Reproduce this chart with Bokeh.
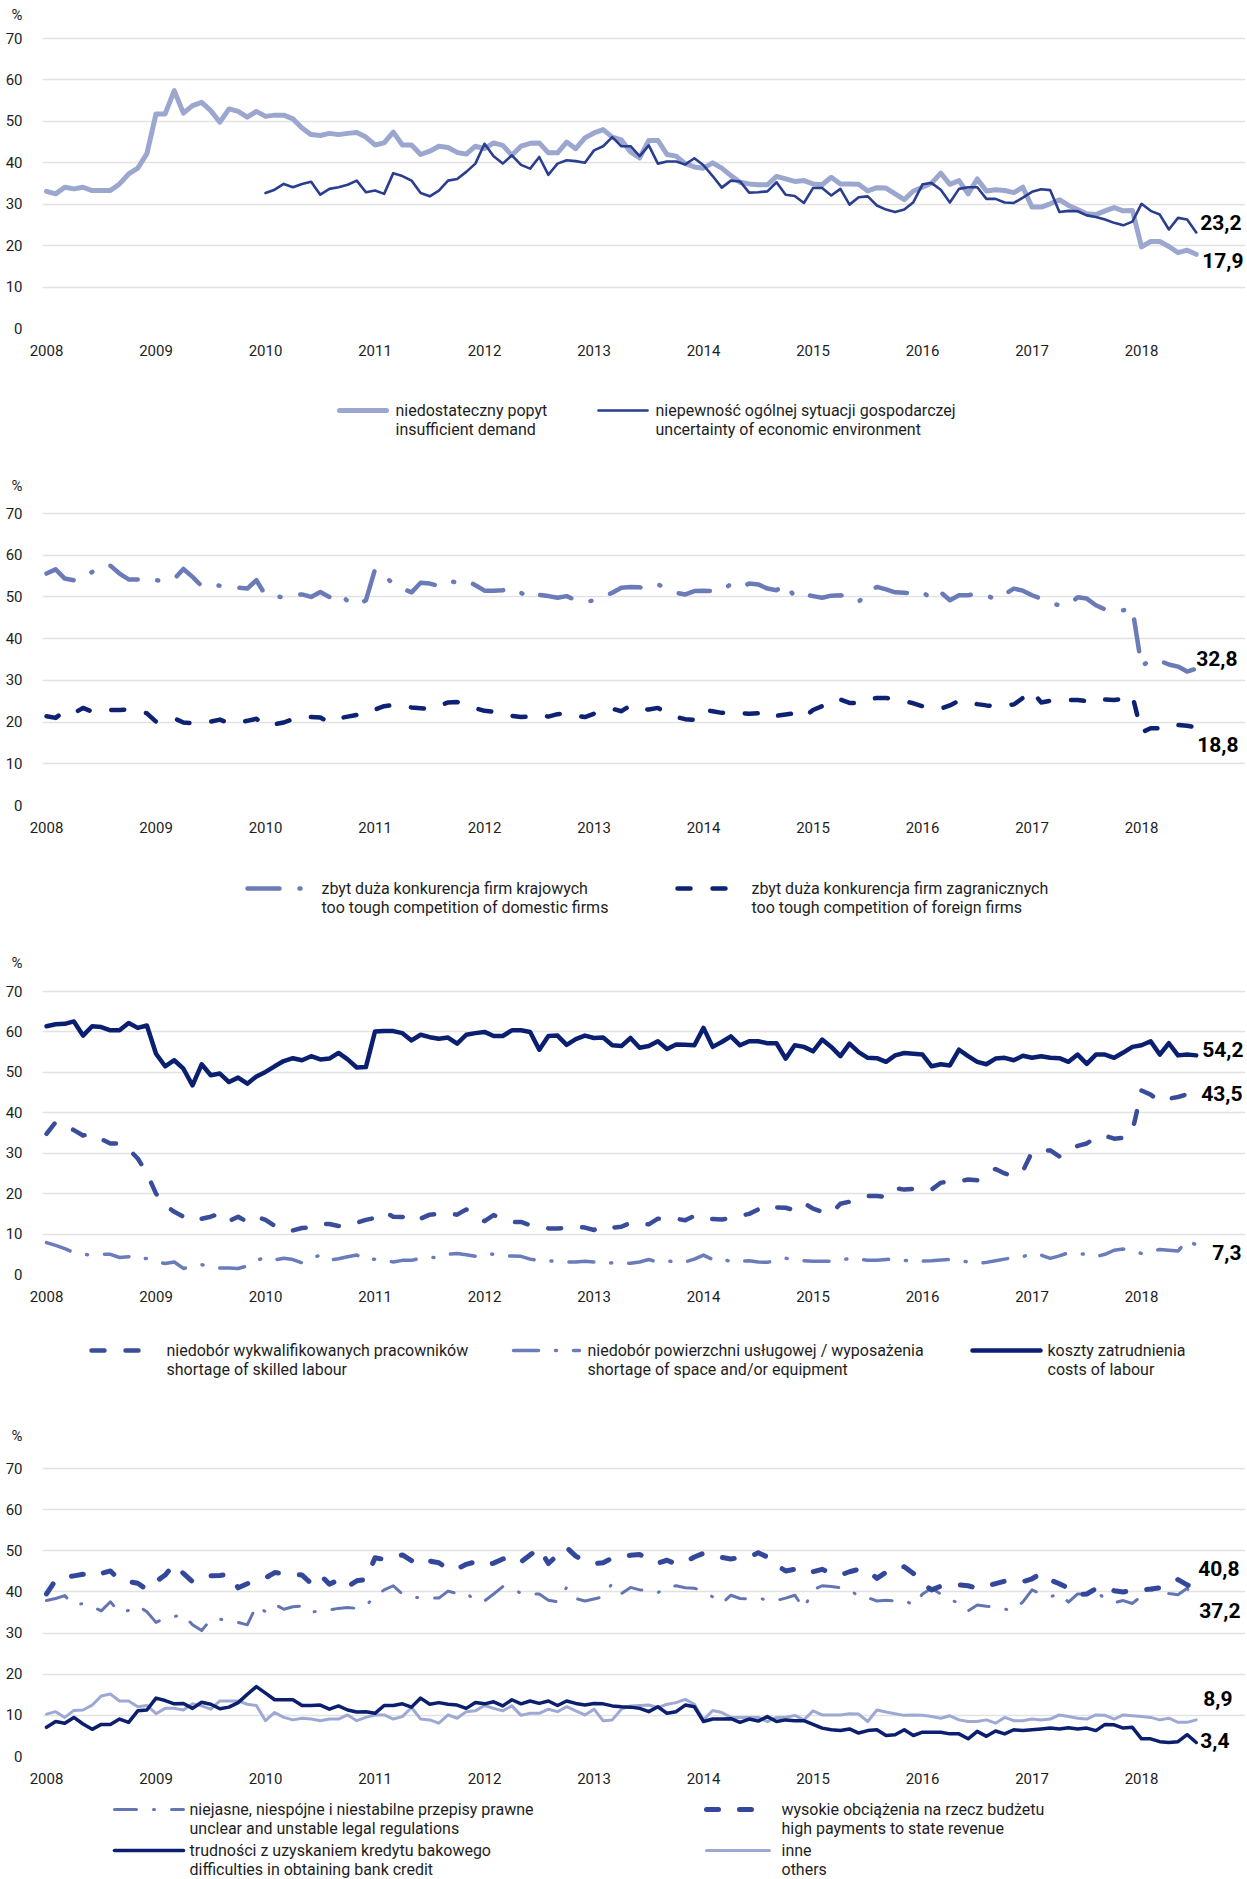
from bokeh.plotting import figure
from bokeh.models import Range1d, FixedTicker
from bokeh.layouts import column
from bokeh.embed import file_html
from bokeh.resources import INLINE
from bokeh.core.properties import value

FONT = "Roboto"
TXT = "#1e1e1e"

# ---------------- data (monthly, Jan 2008 = month 0) ----------------
year_labels = [str(y) for y in range(2008, 2019)]
y_tick_values = [0, 10, 20, 30, 40, 50, 60, 70]
unit_label = "%"

demand = [33.1, 32.5, 34.1, 33.7, 34.1, 33.3, 33.3, 33.3, 34.9, 37.3, 38.7, 42.2,
          51.8, 51.8, 57.4, 52.0, 53.8, 54.6, 52.6, 49.8, 53.0, 52.4, 51.0, 52.4,
          51.2, 51.5, 51.5, 50.6, 48.4, 46.8, 46.6, 47.1, 46.8, 47.1, 47.3, 46.2,
          44.3, 44.8, 47.4, 44.3, 44.3, 42.0, 42.8, 44.0, 43.7, 42.5, 42.1, 44.0,
          43.4, 44.8, 44.2, 41.8, 44.0, 44.7, 44.8, 42.4, 42.4, 45.0, 43.4, 46.0,
          47.2, 48.0, 46.2, 45.5, 42.6, 41.2, 45.4, 45.4, 42.0, 41.6, 39.8, 39.0,
          38.7, 40.0, 38.7, 36.9, 35.3, 34.9, 34.7, 34.7, 36.7, 36.1, 35.5, 35.7,
          34.9, 34.7, 36.5, 34.9, 34.9, 34.8, 33.2, 34.0, 33.9, 32.5, 31.1, 33.2,
          34.1, 35.1, 37.5, 34.8, 35.7, 32.5, 36.1, 33.2, 33.5, 33.3, 32.8, 34.1,
          29.3, 29.3, 30.1, 31.1, 29.7, 28.7, 27.7, 27.5, 28.4, 29.2, 28.4, 28.5,
          19.7, 21.0, 21.0, 19.8, 18.3, 18.9, 17.9]

uncertainty_start = 24
uncertainty = [32.7, 33.5, 34.9, 34.1, 34.9, 35.4, 32.3, 33.7, 34.1, 34.7, 35.7, 32.9,
               33.3, 32.5, 37.5, 36.8, 35.7, 32.7, 31.9, 33.3, 35.7, 36.1, 37.8, 39.8,
               44.6, 41.6, 39.8, 41.8, 39.5, 38.6, 41.4, 37.1, 39.8, 40.6, 40.4, 40.0,
               43.0, 44.0, 46.2, 44.0, 44.0, 41.6, 44.2, 39.8, 40.3, 40.3, 39.6, 41.1,
               39.4, 36.8, 34.0, 35.7, 35.5, 32.8, 32.9, 33.1, 35.3, 32.3, 32.0, 30.3,
               33.9, 33.9, 32.1, 33.7, 29.9, 31.7, 31.9, 29.7, 28.7, 28.1, 28.7, 30.5,
               34.8, 35.1, 33.5, 30.4, 33.7, 34.1, 34.1, 31.3, 31.3, 30.4, 30.3, 31.6,
               33.0, 33.6, 33.4, 28.1, 28.4, 28.3, 27.3, 26.9, 26.3, 25.5, 24.9, 25.8,
               30.1, 28.4, 27.5, 23.9, 26.7, 26.3, 23.2]

domestic = [55.6, 56.6, 54.4, 54.0, 54.4, 56.0, 57.5, 57.5, 55.6, 54.2, 54.2, 54.6,
            54.0, 53.8, 54.3, 56.7, 54.8, 52.6, 53.0, 52.7, 52.4, 52.2, 52.0, 54.0,
            50.4, 50.2, 49.9, 50.4, 50.6, 50.0, 51.2, 50.0, 51.0, 49.0, 48.0, 49.2,
            56.6, 55.0, 53.2, 52.0, 51.1, 53.4, 53.2, 52.6, 53.8, 53.5, 54.0, 52.8,
            51.5, 51.5, 51.6, 52.2, 51.0, 49.6, 50.5, 50.2, 49.8, 50.2, 49.2, 48.7,
            49.2, 50.0, 51.0, 52.2, 52.4, 52.3, 52.0, 53.0, 52.0, 51.0, 50.6, 51.4,
            51.5, 51.4, 51.4, 53.1, 52.3, 53.2, 53.0, 52.0, 51.6, 53.1, 50.0, 50.6,
            50.2, 49.8, 50.3, 50.4, 49.9, 48.8, 51.1, 52.4, 51.8, 51.1, 51.0, 50.8,
            51.2, 49.5, 51.1, 49.2, 50.4, 50.4, 50.8, 50.4, 49.4, 50.6, 52.0, 51.5,
            50.4, 49.6, 48.5, 48.0, 48.1, 49.9, 49.6, 48.0, 47.0, 46.5, 46.8, 47.3,
            33.3, 35.0, 34.7, 33.8, 33.3, 32.1, 32.8]

foreign = [21.4, 21.0, 22.7, 22.1, 23.4, 22.5, 22.8, 22.9, 22.9, 23.0, 22.5, 22.1,
           20.1, 20.5, 20.9, 19.9, 19.7, 19.8, 20.1, 20.6, 19.7, 19.9, 20.3, 20.8,
           19.0, 19.5, 19.9, 20.7, 21.3, 21.2, 21.1, 19.9, 20.9, 21.3, 21.7, 21.7,
           23.0, 23.8, 24.1, 24.0, 23.5, 23.3, 23.1, 23.9, 24.7, 24.8, 24.2, 23.3,
           22.7, 22.5, 21.7, 21.5, 21.2, 21.3, 21.8, 21.3, 21.9, 22.1, 21.5, 21.2,
           22.0, 22.7, 23.2, 22.6, 24.0, 23.2, 23.0, 23.4, 22.1, 21.2, 20.7, 20.5,
           22.9, 22.6, 22.2, 22.5, 22.1, 22.0, 22.1, 20.9, 21.5, 21.8, 22.1, 21.1,
           22.9, 23.8, 23.8, 25.4, 24.6, 24.5, 25.4, 25.8, 25.8, 25.4, 25.0, 24.5,
           23.8, 23.5, 23.2, 24.0, 25.1, 24.9, 24.3, 24.0, 23.8, 24.1, 24.2, 25.8,
           27.5, 24.7, 25.1, 25.3, 25.3, 25.3, 25.0, 24.6, 25.4, 25.3, 25.6, 26.4,
           17.5, 18.5, 18.5, 18.3, 19.3, 19.1, 18.8]

labour_costs = [61.4, 61.9, 62.0, 62.6, 59.1, 61.4, 61.2, 60.4, 60.4, 62.2, 61.0, 61.6,
                54.6, 51.5, 53.0, 50.9, 46.8, 52.0, 49.3, 49.7, 47.6, 48.7, 47.2, 49.0,
                50.1, 51.5, 52.8, 53.5, 53.0, 54.0, 53.2, 53.4, 54.8, 53.2, 51.2, 51.3,
                60.1, 60.2, 60.2, 59.7, 57.9, 59.3, 58.7, 58.3, 58.6, 57.1, 59.3, 59.7,
                60.0, 59.0, 59.0, 60.4, 60.4, 60.0, 55.6, 59.0, 59.1, 56.8, 58.2, 59.1,
                58.5, 58.6, 56.7, 56.5, 58.5, 56.1, 56.5, 57.7, 55.8, 56.9, 56.8, 56.7,
                61.0, 56.3, 57.5, 58.9, 56.7, 57.7, 57.7, 57.2, 57.2, 53.4, 56.7, 56.3,
                55.2, 58.1, 56.3, 54.0, 57.1, 55.0, 53.6, 53.5, 52.6, 54.2, 54.8, 54.6,
                54.4, 51.5, 52.0, 51.7, 55.6, 54.0, 52.6, 52.0, 53.4, 53.6, 53.0, 54.1,
                53.6, 54.0, 53.6, 53.5, 52.6, 54.4, 52.1, 54.4, 54.4, 53.6, 54.9, 56.3,
                56.7, 57.7, 54.4, 57.2, 54.2, 54.4, 54.2]

skilled_labour = [34.8, 37.7, 37.0, 35.7, 34.4, 34.8, 33.5, 32.4, 32.4, 31.0, 28.7, 25.0,
                  20.0, 17.1, 15.5, 14.3, 13.2, 13.8, 14.3, 15.1, 13.2, 14.3, 13.0, 14.3,
                  13.5, 12.0, 11.0, 10.9, 11.5, 11.6, 12.4, 12.5, 12.0, 12.1, 12.8, 13.5,
                  14.0, 15.5, 14.3, 14.2, 15.0, 13.8, 14.8, 15.0, 15.1, 14.8, 16.1, 14.5,
                  13.2, 14.7, 13.7, 13.0, 13.0, 12.2, 11.8, 11.4, 11.4, 11.5, 11.8, 11.6,
                  11.0, 12.1, 11.6, 11.8, 12.8, 12.4, 12.4, 13.8, 13.8, 13.8, 13.4, 14.5,
                  13.8, 13.7, 13.6, 14.0, 14.5, 15.0, 16.1, 15.5, 16.6, 16.5, 15.9, 17.7,
                  16.3, 15.5, 15.1, 17.5, 18.0, 18.5, 19.4, 19.4, 19.2, 21.4, 21.0, 21.2,
                  21.3, 21.0, 22.7, 23.0, 23.1, 23.5, 23.3, 25.0, 26.1, 25.0, 24.3, 25.6,
                  30.3, 30.5, 30.7, 29.2, 31.0, 31.8, 32.4, 34.0, 34.3, 33.6, 33.8, 35.4,
                  45.5, 44.5, 42.8, 43.5, 43.9, 44.6, 43.5]

space_equipment = [7.9, 7.2, 6.4, 5.4, 5.0, 4.8, 5.0, 5.0, 4.2, 4.4, 3.7, 4.0,
                   3.3, 2.7, 3.1, 1.5, 2.0, 2.4, 2.0, 1.6, 1.6, 1.5, 2.1, 3.5,
                   4.2, 3.6, 4.0, 3.7, 2.9, 4.0, 4.8, 3.6, 3.9, 4.4, 4.8, 3.5,
                   3.8, 3.5, 3.1, 3.5, 3.5, 4.0, 4.2, 4.2, 5.0, 5.2, 4.9, 4.5,
                   5.2, 5.0, 4.6, 4.6, 4.5, 3.8, 3.4, 3.4, 3.2, 3.1, 3.1, 3.3,
                   3.1, 2.7, 2.9, 2.7, 2.8, 3.1, 3.7, 3.1, 3.3, 3.2, 3.1, 3.8,
                   4.8, 3.7, 4.0, 3.1, 3.3, 3.4, 3.1, 3.0, 3.5, 4.0, 3.8, 3.4,
                   3.3, 3.3, 3.3, 3.5, 4.0, 3.8, 3.5, 3.5, 3.7, 3.9, 3.5, 3.3,
                   3.3, 3.4, 3.6, 3.7, 3.5, 3.1, 2.7, 3.0, 3.4, 3.8, 4.2, 4.4,
                   5.2, 4.8, 4.0, 4.6, 5.4, 5.2, 5.0, 4.4, 5.0, 6.0, 6.3, 5.8,
                   5.2, 5.7, 6.2, 6.0, 5.8, 8.5, 7.3]

state_payments = [39.5, 42.9, 43.5, 43.9, 44.3, 43.7, 44.5, 45.1, 42.9, 42.5, 42.1, 40.6,
                  42.5, 44.1, 46.7, 44.5, 42.5, 43.7, 43.9, 44.0, 44.3, 41.0, 42.0, 42.9,
                  43.4, 44.7, 44.5, 44.3, 44.1, 42.1, 44.1, 41.9, 42.9, 41.3, 42.7, 43.0,
                  48.3, 47.9, 48.5, 49.0, 47.6, 46.5, 47.5, 47.1, 45.5, 45.6, 46.7, 47.3,
                  46.5, 47.0, 48.0, 48.5, 47.3, 49.0, 50.6, 46.9, 49.0, 50.8, 48.7, 47.5,
                  46.9, 47.1, 48.2, 48.5, 48.9, 49.1, 48.0, 47.0, 47.7, 46.8, 47.3, 48.5,
                  49.4, 49.1, 48.4, 48.0, 48.4, 48.5, 49.5, 48.5, 46.5, 45.1, 45.5, 45.9,
                  44.9, 45.5, 44.5, 44.1, 44.9, 45.5, 45.3, 43.3, 44.8, 46.0, 46.1, 44.5,
                  42.0, 40.5, 41.4, 41.6, 41.7, 41.5, 40.9, 41.5, 42.0, 42.6, 42.3, 42.5,
                  43.2, 44.5, 42.9, 42.0, 40.9, 39.3, 39.5, 40.8, 41.1, 40.3, 40.0, 40.3,
                  40.5, 40.7, 41.0, 41.9, 43.0, 41.7, 40.8]

legal_regulations = [37.9, 38.4, 39.1, 36.8, 37.2, 36.5, 35.4, 37.6, 35.0, 35.5, 36.6, 35.2,
                     32.6, 33.6, 34.0, 34.5, 32.0, 30.6, 33.3, 33.4, 33.0, 32.6, 32.0, 36.6,
                     35.2, 37.0, 35.8, 36.4, 36.6, 35.0, 35.5, 35.6, 36.0, 36.2, 36.0, 36.6,
                     39.0, 40.5, 41.5, 39.5, 38.7, 38.6, 38.5, 38.5, 40.2, 39.6, 39.8, 37.8,
                     37.8, 39.5, 41.3, 41.0, 39.6, 39.5, 39.5, 38.0, 37.6, 41.1, 38.4, 37.8,
                     38.3, 38.8, 42.1, 39.6, 41.1, 40.5, 40.3, 39.8, 41.3, 41.5, 41.0, 40.9,
                     40.2, 38.8, 37.2, 39.2, 38.4, 38.3, 38.6, 37.9, 37.9, 38.5, 39.2, 36.0,
                     40.5, 41.5, 41.3, 41.0, 40.7, 38.8, 38.6, 37.8, 38.0, 37.8, 38.0, 36.8,
                     39.5, 40.9, 39.5, 38.0, 37.4, 35.4, 36.8, 36.5, 36.4, 35.8, 35.6, 37.6,
                     40.5, 39.5, 38.8, 39.6, 37.5, 39.5, 39.5, 39.9, 38.5, 37.4, 37.9, 37.2,
                     39.0, 40.5, 40.0, 39.6, 39.3, 40.9, 37.2]

bank_credit = [7.1, 8.5, 8.1, 9.5, 7.9, 6.6, 7.8, 7.8, 9.1, 8.3, 11.1, 11.3,
               14.2, 13.6, 12.8, 12.9, 11.7, 13.2, 12.7, 11.6, 12.0, 13.1, 15.1, 17.0,
               15.4, 13.8, 13.8, 13.8, 12.4, 12.4, 12.5, 11.5, 12.3, 11.3, 10.8, 10.9,
               10.5, 12.4, 12.4, 12.8, 12.0, 14.2, 12.7, 13.1, 12.7, 12.5, 11.7, 13.1,
               12.8, 13.3, 12.3, 13.8, 12.8, 13.5, 12.9, 13.5, 12.4, 13.5, 12.9, 12.5,
               12.9, 12.8, 12.3, 12.1, 12.0, 11.7, 10.9, 12.1, 10.5, 10.9, 12.5, 12.1,
               8.5, 9.1, 9.1, 9.2, 8.3, 9.1, 8.6, 9.7, 8.5, 8.9, 8.7, 8.7,
               7.8, 6.9, 6.5, 6.3, 6.7, 5.7, 6.3, 6.5, 5.1, 5.3, 6.5, 5.1,
               5.9, 5.9, 5.9, 5.5, 5.5, 4.3, 6.1, 4.9, 6.2, 5.5, 6.5, 6.3,
               6.5, 6.7, 6.9, 6.7, 7.0, 6.7, 6.9, 6.3, 7.8, 7.7, 6.9, 7.1,
               4.3, 4.3, 3.6, 3.4, 3.6, 5.3, 3.4]

others = [10.3, 10.9, 9.5, 11.2, 11.3, 12.5, 14.7, 15.2, 13.5, 13.5, 12.1, 12.4,
          10.4, 11.7, 11.7, 11.3, 12.8, 12.3, 11.5, 13.5, 13.5, 13.5, 12.7, 12.4,
          8.7, 10.7, 9.5, 8.9, 9.3, 9.1, 8.7, 9.1, 9.1, 10.1, 8.7, 9.5,
          10.1, 10.1, 9.1, 9.7, 11.9, 9.1, 8.9, 8.1, 10.1, 9.3, 10.9, 11.1,
          12.4, 11.7, 11.1, 12.3, 10.0, 10.5, 10.5, 11.5, 10.9, 12.1, 11.1, 10.1,
          11.5, 8.7, 8.9, 11.5, 12.3, 12.4, 12.5, 11.9, 12.7, 13.1, 13.9, 12.7,
          8.9, 11.2, 10.7, 9.5, 9.5, 9.5, 9.5, 8.5, 9.5, 9.5, 10.0, 8.9,
          11.1, 10.1, 10.1, 10.1, 10.4, 10.3, 8.5, 11.3, 10.8, 10.4, 10.0, 10.1,
          10.0, 9.7, 9.3, 9.9, 8.9, 8.5, 8.5, 8.9, 8.1, 9.5, 8.7, 8.7,
          9.1, 8.9, 9.1, 10.1, 9.7, 9.3, 9.1, 10.1, 10.0, 9.1, 10.1, 9.9,
          9.7, 9.5, 8.9, 9.3, 8.3, 8.3, 8.9]

# ---------------- styles ----------------
C_LIGHT = "#9ca7d0"
C_UNC = "#2a3d8f"
C_DOM = "#6b7bb8"
C_FOR = "#0d2273"
C_SKILL = "#3a4d9b"
C_SPACE = "#6b7cba"
C_COST = "#0b1f70"
C_LEGAL = "#6475b4"
C_PAY = "#34489b"
C_BANK = "#0b1f6e"
C_OTHER = "#9ea9d3"

W = 1245
LEFT = 42
MONTH_PX = 9.125
X_START = -0.44
X_END = X_START + (W - LEFT) / MONTH_PX


def fmt(v):
    return ("%.1f" % v).replace(".", ",")


def make_panel(top, unit_above, frame_h, bottom, series, labels):
    # the frame is extended upwards so that the "%" unit can sit on the y axis
    extra = top - 4
    ppu = frame_h / 70.0
    y_end = 70 + extra / ppu
    unit_tick = round(70 + unit_above / ppu, 3)
    p = figure(width=W, height=top + frame_h + bottom,
               x_range=Range1d(X_START, X_END), y_range=Range1d(0, y_end),
               toolbar_location=None, output_backend="svg",
               min_border_left=LEFT, min_border_right=0,
               min_border_top=4, min_border_bottom=bottom)
    p.outline_line_color = None
    p.xgrid.grid_line_color = None
    p.ygrid.ticker = FixedTicker(ticks=y_tick_values)
    p.ygrid.grid_line_color = "#e2e2e2"
    p.ygrid.grid_line_width = 1.6
    p.yaxis.ticker = FixedTicker(ticks=y_tick_values + [unit_tick])
    p.yaxis.major_label_overrides = {unit_tick: unit_label}
    p.xaxis.ticker = FixedTicker(ticks=[12 * i for i in range(len(year_labels))])
    p.xaxis.major_label_overrides = {12 * i: lab for i, lab in enumerate(year_labels)}
    for ax in (p.xaxis, p.yaxis):
        ax.axis_line_color = None
        ax.major_tick_line_color = None
        ax.minor_tick_line_color = None
        ax.major_label_text_font = FONT
        ax.major_label_text_color = TXT
        ax.major_label_text_font_size = "15px"
    p.xaxis.major_label_standoff = 10
    p.yaxis.major_label_standoff = 14

    for vals, start, color, width, dash in series:
        xs = list(range(start, start + len(vals)))
        p.line(xs, vals, line_color=color, line_width=width, line_dash=dash,
               line_cap="round", line_join="round")
    for vals, start, dx, dy in labels:
        last = start + len(vals) - 1
        p.text(x=[last], y=[vals[-1]], text=[fmt(vals[-1])], x_offset=dx, y_offset=dy,
               text_font=value(FONT), text_font_size="21px", text_font_style="bold",
               text_color="#000000", text_align="left", text_baseline="middle")
    return p


def make_legend(height, items):
    p = figure(width=W, height=height, x_range=Range1d(LEFT, W), y_range=Range1d(height, 0),
               toolbar_location=None, output_backend="svg",
               min_border_left=LEFT, min_border_right=0, min_border_top=0, min_border_bottom=0,
               x_axis_type=None, y_axis_type=None)
    p.outline_line_color = None
    p.grid.visible = False
    for x0, x1, y, color, width, dash, tx, lines in items:
        p.line([x0, x1], [y, y], line_color=color, line_width=width, line_dash=dash,
               line_cap="round")
        p.text(x=[tx] * len(lines), y=[y + 19 * i for i in range(len(lines))], text=lines,
               text_font=value(FONT), text_font_size="16px", text_color=TXT,
               text_align="left", text_baseline="middle")
    return p


DASH_DOM = "32 20 1 20"
DASH_FOR = "13 22"
DASH_SKILL = "13 21"
DASH_SPACE = "25 17 1 17"
DASH_LEGAL = "22 17 1 17"
DASH_PAY = "12 21"

f1 = make_panel(38, 24, 290, 36,
                [(demand, 0, C_LIGHT, 5, "solid"),
                 (uncertainty, uncertainty_start, C_UNC, 2.6, "solid")],
                [(uncertainty, uncertainty_start, 4, -10), (demand, 0, 6, 6)])
l1 = make_legend(107, [
    (339, 386, 46, C_LIGHT, 5, "solid", 395, ["niedostateczny popyt", "insufficient demand"]),
    (598, 647, 46, C_UNC, 2.6, "solid", 655, ["niepewność ogólnej sytuacji gospodarczej",
                                              "uncertainty of economic environment"]),
])
f2 = make_panel(42, 28, 292, 36,
                [(domestic, 0, C_DOM, 4.5, DASH_DOM),
                 (foreign, 0, C_FOR, 4.5, DASH_FOR)],
                [(domestic, 0, 0, -10), (foreign, 0, 1, 17)])
l2 = make_legend(107, [
    (247, 307, 47, C_DOM, 4.5, DASH_DOM, 321, ["zbyt duża konkurencja firm krajowych",
                                               "too tough competition of domestic firms"]),
    (677, 732, 47, C_FOR, 4.5, DASH_FOR, 751, ["zbyt duża konkurencja firm zagranicznych",
                                               "too tough competition of foreign firms"]),
])
f3 = make_panel(43, 29, 283, 36,
                [(labour_costs, 0, C_COST, 4.5, "solid"),
                 (skilled_labour, 0, C_SKILL, 4.5, DASH_SKILL),
                 (space_equipment, 0, C_SPACE, 3.5, DASH_SPACE)],
                [(labour_costs, 0, 6, -6), (skilled_labour, 0, 5, -5), (space_equipment, 0, 16, 8)])
l3 = make_legend(112, [
    (91, 146, 40, C_SKILL, 4.5, DASH_SKILL, 166, ["niedobór wykwalifikowanych pracowników",
                                                  "shortage of skilled labour"]),
    (513, 579, 40, C_SPACE, 3.5, DASH_SPACE, 587, ["niedobór powierzchni usługowej / wyposażenia",
                                                   "shortage of space and/or equipment"]),
    (972, 1040, 40, C_COST, 4.5, "solid", 1047, ["koszty zatrudnienia", "costs of labour"]),
])
f4 = make_panel(46, 32, 288, 34,
                [(others, 0, C_OTHER, 3, "solid"),
                 (bank_credit, 0, C_BANK, 3.5, "solid"),
                 (legal_regulations, 0, C_LEGAL, 3, DASH_LEGAL),
                 (state_payments, 0, C_PAY, 5, DASH_PAY)],
                [(state_payments, 0, 2, -20), (legal_regulations, 0, 3, 7),
                 (others, 0, 7, -21), (bank_credit, 0, 4, -2)])
l4 = make_legend(88, [
    (114, 183, 19, C_LEGAL, 3, DASH_LEGAL, 189, ["niejasne, niespójne i niestabilne przepisy prawne",
                                                 "unclear and unstable legal regulations"]),
    (706, 761, 19, C_PAY, 5, DASH_PAY, 781, ["wysokie obciążenia na rzecz budżetu",
                                             "high payments to state revenue"]),
    (114, 183, 60, C_BANK, 3.5, "solid", 189, ["trudności z uzyskaniem kredytu bakowego",
                                               "difficulties in obtaining bank credit"]),
    (706, 769, 60, C_OTHER, 3, "solid", 781, ["inne", "others"]),
])

layout = column(f1, l1, f2, l2, f3, l3, f4, l4)
open("out.html", "w").write(file_html(layout, INLINE))
